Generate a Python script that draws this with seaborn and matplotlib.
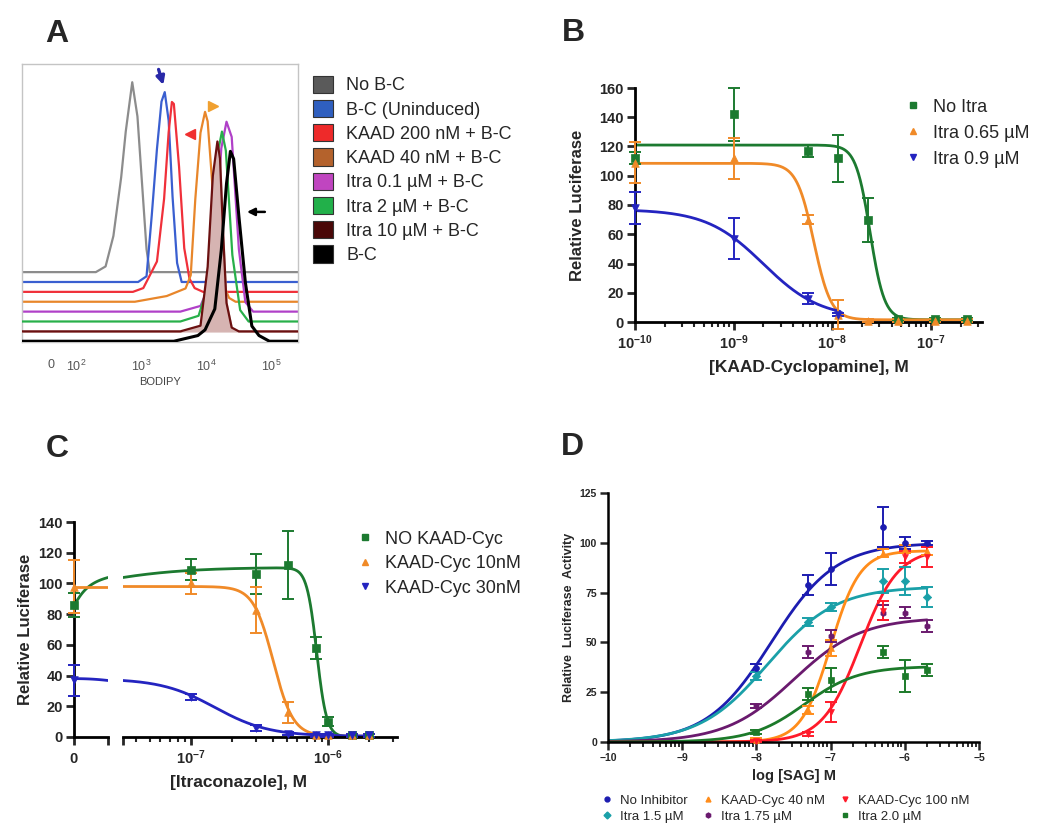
import numpy as np
import matplotlib
matplotlib.use("Agg")
import matplotlib.pyplot as plt
import seaborn as sns
from matplotlib.lines import Line2D
from matplotlib.patches import Patch
from matplotlib.ticker import FixedLocator, NullFormatter

# ---------------- Panel A: BODIPY flow histograms (log10 BODIPY, mode-normalised)
hist_labels = ["No B-C", "B-C (Uninduced)", "KAAD 200 nM + B-C", "KAAD 40 nM + B-C",
               "Itra 0.1 \u00b5M + B-C", "Itra 2 \u00b5M + B-C", "Itra 10 \u00b5M + B-C", "B-C"]
nobc_logx = [2.30, 2.45, 2.57, 2.69, 2.76, 2.86, 2.94, 3.02, 3.08, 3.13]
nobc_h = [0, 0.03, 0.19, 0.50, 0.74, 1.00, 0.82, 0.42, 0.12, 0]
uninduced_logx = [2.95, 3.08, 3.16, 3.24, 3.31, 3.36, 3.42, 3.48, 3.55, 3.62]
uninduced_h = [0, 0.03, 0.35, 0.70, 0.95, 1.00, 0.85, 0.45, 0.10, 0]
kaad200_logx = [2.87, 3.03, 3.24, 3.35, 3.42, 3.47, 3.50, 3.58, 3.66, 3.74, 3.82, 3.95]
kaad200_h = [0, 0.02, 0.16, 0.49, 0.84, 1.00, 0.99, 0.66, 0.23, 0.07, 0.02, 0]
kaad40_logx = [2.90, 3.39, 3.68, 3.76, 3.83, 3.91, 3.98, 4.02, 4.07, 4.15, 4.25, 4.35, 4.45]
kaad40_h = [0, 0.03, 0.07, 0.14, 0.54, 0.89, 1.00, 0.95, 0.72, 0.35, 0.10, 0.02, 0]
itra01_logx = [3.60, 3.91, 4.07, 4.15, 4.23, 4.31, 4.39, 4.50, 4.60, 4.72]
itra01_h = [0, 0.03, 0.16, 0.45, 0.86, 1.00, 0.92, 0.33, 0.05, 0]
itra2_logx = [3.60, 3.88, 4.00, 4.08, 4.16, 4.24, 4.30, 4.40, 4.52, 4.65]
itra2_h = [0, 0.03, 0.16, 0.45, 0.86, 1.00, 0.90, 0.35, 0.06, 0]
itra10_logx = [3.60, 3.91, 4.02, 4.10, 4.17, 4.21, 4.26, 4.31, 4.39, 4.50]
itra10_h = [0, 0.03, 0.34, 0.82, 1.00, 0.91, 0.50, 0.15, 0.02, 0]
bc_logx = [3.50, 3.87, 3.98, 4.13, 4.23, 4.31, 4.37, 4.42, 4.50, 4.60, 4.70, 4.81, 4.97]
bc_h = [0, 0.03, 0.06, 0.17, 0.48, 0.83, 1.00, 0.96, 0.66, 0.31, 0.08, 0.03, 0]

# ---------------- Panel B: KAAD-cyclopamine dose response
b_conc = [1e-10, 1e-9, 5.7e-9, 1.15e-8, 2.3e-8, 4.6e-8, 1.1e-7, 2.3e-7]
b_noitra = [112, 142, 117, 112, 70, 2, 2, 2]
b_noitra_err = [4, 18, 4, 16, 15, 1, 1, 1]
b_itra065 = [109, 112, 70, 5, 1, 1, 1, 1]
b_itra065_err = [14, 14, 3, 10, 1, 1, 1, 1]
b_itra09 = [78, 57, 16, 5]
b_itra09_err = [11, 14, 4, 1]
# fit parameters: bottom, top, IC50, hill
b_fit_noitra = [1.5, 121, 2.42e-8, 6.0]
b_fit_itra065 = [1.5, 108.5, 6.5e-9, 5.0]
b_fit_itra09 = [2.5, 77, 2.0e-9, 1.5]

# ---------------- Panel C: itraconazole dose response
c_conc = [1e-7, 3e-7, 5.1e-7, 8.2e-7, 1e-6, 1.5e-6, 2e-6]
c_nokaad_zero, c_nokaad_zero_err = 86, 8
c_nokaad = [109, 106, 112, 58, 10, 1, 1]
c_nokaad_err = [7, 13, 22, 7, 3, 1, 1]
c_kaad10_zero, c_kaad10_zero_err = 98, 17
c_kaad10 = [100, 83, 16, 1, 1, 1, 1]
c_kaad10_err = [7, 15, 7, 1, 1, 1, 1]
c_kaad30_zero, c_kaad30_zero_err = 37, 10
c_kaad30 = [26, 6, 2, 1, 1, 1, 1]
c_kaad30_err = [2, 2, 1, 1, 1, 1, 1]
# no KAAD: start, plateau, rise EC50, rise hill, fall IC50, fall hill
c_fit_nokaad = [86, 110.5, 1.45e-8, 1.25, 8.3e-7, 12.0]
c_fit_kaad10 = [0.5, 98, 4.0e-7, 6.0]
c_fit_kaad30 = [0.5, 38, 1.5e-7, 2.2]

# ---------------- Panel D: SAG dose response (log M)
d_logx = [-8, -7.3, -7, -6.3, -6, -5.7]
d_noinh = [37, 79, 87, 108, 100, 100]
d_noinh_err = [2, 5, 8, 10, 3, 1]
d_itra15 = [33, 60, 68, 81, 81, 73]
d_itra15_err = [2, 2, 2, 6, 7, 5]
d_itra175 = [18, 45, 53, 65, 65, 58]
d_itra175_err = [1, 3, 3, 4, 3, 3]
d_itra20 = [5, 24, 31, 45, 33, 36]
d_itra20_err = [1, 3, 6, 3, 8, 3]
d_kaad40 = [1, 16, 47, 95, 97, 96]
d_kaad40_err = [1, 2, 4, 2, 2, 2]
d_kaad100 = [0.5, 4, 15, 66, 93, 93]
d_kaad100_err = [0.5, 1, 5, 5, 3, 5]
# top, logEC50, hill (bottom = 0)
d_fit_noinh = [100, -7.80, 1.0]
d_fit_itra15 = [78, -7.85, 0.95]
d_fit_itra175 = [62.5, -7.50, 0.95]
d_fit_itra20 = [38, -7.35, 1.2]
d_fit_kaad40 = [96, -7.00, 2.2]
d_fit_kaad100 = [97, -6.60, 1.7]


def hill_down(x, bottom, top, ic50, slope):
    return bottom + (top - bottom) / (1 + (np.asarray(x) / ic50) ** slope)


def rise_fall(x, start, top, ec50, h1, ic50, h2):
    x = np.asarray(x, dtype=float)
    r = x ** h1 / (x ** h1 + ec50 ** h1)
    return (start + (top - start) * r) / (1 + (x / ic50) ** h2)


def hill_up_log(logx, top, logec50, slope):
    return top / (1 + 10 ** ((logec50 - np.asarray(logx)) * slope))


sns.set_style("white")
plt.rcParams["font.family"] = ["Liberation Sans", "DejaVu Sans"]
plt.rcParams["mathtext.fontset"] = "custom"
plt.rcParams["mathtext.rm"] = "Liberation Sans"
plt.rcParams["mathtext.bf"] = "Liberation Sans:bold"
plt.rcParams["mathtext.it"] = "Liberation Sans:italic"

W, H = 1050, 831
fig = plt.figure(figsize=(W / 100, H / 100), dpi=100)


def px_axes(l, t, r, b):
    return fig.add_axes([l / W, 1 - b / H, (r - l) / W, (b - t) / H])


def prism_axes(ax, lw=2.0, size=10.5):
    sns.despine(ax=ax)
    for s in ["left", "bottom"]:
        ax.spines[s].set_linewidth(lw)
        ax.spines[s].set_color("black")
    ax.tick_params(which="major", direction="out", length=6, width=lw, labelsize=size, pad=2,
                   left=True, bottom=True)
    ax.tick_params(which="minor", direction="out", length=3.5, width=lw * 0.75, bottom=True)
    for lbl in ax.get_xticklabels() + ax.get_yticklabels():
        lbl.set_fontweight("bold")


def draw_series(ax, x, y, err, color, marker, ms=30):
    ax.errorbar(x, y, yerr=err, fmt="none", ecolor=color, elinewidth=1.4, capsize=4,
                capthick=1.4, zorder=3, clip_on=False)
    sns.scatterplot(x=x, y=y, ax=ax, color=color, marker=marker, s=ms, edgecolor=color,
                    linewidth=0.5, zorder=4, clip_on=False, legend=False)


# ================= Panel A =================
axA = px_axes(22, 64, 298, 342)
hist_logx = [nobc_logx, uninduced_logx, kaad200_logx, kaad40_logx, itra01_logx, itra2_logx,
             itra10_logx, bc_logx]
hist_h = [nobc_h, uninduced_h, kaad200_h, kaad40_h, itra01_h, itra2_h, itra10_h, bc_h]
line_colors = ["#8c8c8c", "#3a5fd0", "#f0303a", "#e8862a", "#b040c8", "#28b04a", "#6a1010", "#000000"]
box_colors = ["#5a5a5a", "#2f5fbf", "#ee2a2a", "#b4622c", "#c045c0", "#22b04a", "#4a0808", "#000000"]
for i, (lx, hh, col) in enumerate(zip(hist_logx, hist_h, line_colors)):
    off = (7 - i) * 0.052
    xs = np.concatenate([[-130], 10 ** np.array(lx), [3e5]])
    ys = off + np.concatenate([[0], hh, [0]])
    if i == 6:
        axA.fill_between(xs, off, ys, color="#d6b4b2", zorder=2 + i * 0.1)
    sns.lineplot(x=xs, y=ys, ax=axA, color=col, lw=2.2 if i == 7 else 1.6,
                 zorder=2.05 + i * 0.1, legend=False)
axA.set_xscale("symlog", linthresh=100, linscale=0.354)
axA.set_xlim(-112, 2.57e5)
axA.set_ylim(-0.004, 1.46)
axA.set_yticks([])
axA.set_xticks([0, 1e2, 1e3, 1e4, 1e5])
axA.set_xticklabels(["0", "$10^2$", "$10^3$", "$10^4$", "$10^5$"])
axA.xaxis.set_minor_locator(FixedLocator([k * 10 ** n for n in range(2, 5) for k in range(2, 10)]
                                         + [-50, 50]))
axA.xaxis.set_minor_formatter(NullFormatter())
axA.tick_params(axis="x", which="major", direction="out", length=3, width=0.8, colors="#555555",
                labelsize=9, pad=9)
axA.tick_params(axis="x", which="minor", direction="out", length=2, width=0.6, colors="#777777")
for s in axA.spines.values():
    s.set_color("#c4c4c4")
    s.set_linewidth(1.0)
axA.set_xlabel("BODIPY", fontsize=8, color="#444444", labelpad=2)
# arrows marking each population
axA.annotate("", xy=(0.515, 0.915), xytext=(0.492, 0.99), xycoords="axes fraction",
             arrowprops=dict(arrowstyle="-|>", color="#2828a8", lw=2.4, mutation_scale=12))
axA.plot([0.609], [0.748], marker="<", color="#f03030", ms=7, transform=axA.transAxes, clip_on=False)
axA.plot([0.692], [0.850], marker=">", color="#f0a030", ms=7, transform=axA.transAxes, clip_on=False)
axA.annotate("", xy=(0.805, 0.468), xytext=(0.89, 0.468), xycoords="axes fraction",
             arrowprops=dict(arrowstyle="-|>", color="black", lw=1.8, mutation_scale=11))
axA.legend([Patch(facecolor=c, edgecolor="#333333", lw=0.8) for c in box_colors], hist_labels,
           loc="upper left", bbox_to_anchor=(1.054, 0.958), frameon=False, fontsize=13,
           handlelength=1.1, handleheight=1.1, handletextpad=0.75, labelspacing=0.3,
           borderpad=0, borderaxespad=0)

# ================= Panel B =================
axB = px_axes(635, 88, 982, 322)
c_green, c_orange, c_blue = "#1c7a30", "#f08a28", "#2424c0"
xs_long = np.logspace(-10, np.log10(2.3e-7), 400)
xs_short = np.logspace(-10, np.log10(1.2e-8), 300)
sns.lineplot(x=xs_long, y=hill_down(xs_long, *b_fit_noitra), ax=axB, color=c_green, lw=2, legend=False)
sns.lineplot(x=xs_long, y=hill_down(xs_long, *b_fit_itra065), ax=axB, color=c_orange, lw=2, legend=False)
sns.lineplot(x=xs_short, y=hill_down(xs_short, *b_fit_itra09), ax=axB, color=c_blue, lw=2, legend=False)
draw_series(axB, b_conc, b_noitra, b_noitra_err, c_green, "s")
draw_series(axB, b_conc, b_itra065, b_itra065_err, c_orange, "^")
draw_series(axB, b_conc[:len(b_itra09)], b_itra09, b_itra09_err, c_blue, "v")
axB.set_xscale("log")
axB.set_xlim(1e-10, 3.3e-7)
axB.set_ylim(0, 160)
axB.set_yticks(range(0, 161, 20))
axB.set_xticks([1e-10, 1e-9, 1e-8, 1e-7])
axB.set_xticklabels([r"$\mathbf{10^{-10}}$", r"$\mathbf{10^{-9}}$", r"$\mathbf{10^{-8}}$",
                     r"$\mathbf{10^{-7}}$"])
axB.xaxis.set_minor_formatter(NullFormatter())
prism_axes(axB)
axB.set_xlabel("[KAAD-Cyclopamine], M", fontsize=12.5, fontweight="bold", labelpad=6)
axB.set_ylabel("Relative Luciferase", fontsize=12, fontweight="bold", labelpad=10)
b_handles = [Line2D([], [], ls="", marker=m, color=c, ms=5) for m, c in
             [("s", c_green), ("^", c_orange), ("v", c_blue)]]
axB.legend(b_handles, ["No Itra", "Itra 0.65 \u00b5M", "Itra 0.9 \u00b5M"], loc="upper left",
           bbox_to_anchor=(0.775, 0.955), frameon=False, fontsize=13, handlelength=1.0,
           handletextpad=0.6, labelspacing=0.5, borderpad=0, borderaxespad=0)

# ================= Panel C (broken x axis) =================
axC1 = px_axes(74, 522, 108, 737)
axC2 = px_axes(123, 522, 397, 737)
x_split = 3.2e-8
xs_lin = np.linspace(0, x_split, 120)
xs_log = np.logspace(np.log10(x_split), np.log10(2e-6), 400)
for ax, xs in [(axC1, xs_lin), (axC2, xs_log)]:
    sns.lineplot(x=xs, y=rise_fall(xs, *c_fit_nokaad), ax=ax, color=c_green, lw=2, legend=False)
    sns.lineplot(x=xs, y=hill_down(xs, *c_fit_kaad10), ax=ax, color=c_orange, lw=2, legend=False)
    sns.lineplot(x=xs, y=hill_down(xs, *c_fit_kaad30), ax=ax, color=c_blue, lw=2, legend=False)
draw_series(axC1, [0], [c_nokaad_zero], [c_nokaad_zero_err], c_green, "s")
draw_series(axC1, [0], [c_kaad10_zero], [c_kaad10_zero_err], c_orange, "^")
draw_series(axC1, [0], [c_kaad30_zero], [c_kaad30_zero_err], c_blue, "v")
draw_series(axC2, c_conc, c_nokaad, c_nokaad_err, c_green, "s")
draw_series(axC2, c_conc, c_kaad10, c_kaad10_err, c_orange, "^")
draw_series(axC2, c_conc, c_kaad30, c_kaad30_err, c_blue, "v")
axC1.set_xlim(0, x_split)
axC1.set_ylim(0, 140)
axC1.set_xticks([0, x_split])
axC1.set_xticklabels(["0", ""])
axC1.set_yticks(range(0, 141, 20))
prism_axes(axC1)
axC1.tick_params(axis="x", pad=5)
axC1.set_ylabel("Relative Luciferase", fontsize=12, fontweight="bold", labelpad=4)
axC2.set_xscale("log")
axC2.set_xlim(x_split, 3.2e-6)
axC2.set_ylim(0, 140)
axC2.set_xticks([x_split, 1e-7, 1e-6])
axC2.set_xticklabels(["", r"$\mathbf{10^{-7}}$", r"$\mathbf{10^{-6}}$"])
axC2.xaxis.set_minor_formatter(NullFormatter())
prism_axes(axC2)
axC2.spines["left"].set_visible(False)
axC2.tick_params(axis="y", left=False, labelleft=False)
axC2.set_xlabel("[Itraconazole], M", fontsize=12.5, fontweight="bold")
axC2.xaxis.set_label_coords(0.42, -0.175)
axC2.legend(b_handles, ["NO KAAD-Cyc", "KAAD-Cyc 10nM", "KAAD-Cyc 30nM"], loc="upper left",
            bbox_to_anchor=(0.85, 0.96), frameon=False, fontsize=13, handlelength=1.0,
            handletextpad=0.6, labelspacing=0.42, borderpad=0, borderaxespad=0)

# ================= Panel D =================
axD = px_axes(608, 493, 979, 742)
d_series = [
    ("No Inhibitor", d_noinh, d_noinh_err, d_fit_noinh, "#1c1cb0", "o"),
    ("Itra 1.5 \u00b5M", d_itra15, d_itra15_err, d_fit_itra15, "#1aa0a8", "D"),
    ("KAAD-Cyc 40 nM", d_kaad40, d_kaad40_err, d_fit_kaad40, "#ff8c1a", "^"),
    ("Itra 1.75 \u00b5M", d_itra175, d_itra175_err, d_fit_itra175, "#6a1a6e", "h"),
    ("KAAD-Cyc 100 nM", d_kaad100, d_kaad100_err, d_fit_kaad100, "#ff1a2a", "v"),
    ("Itra 2.0 \u00b5M", d_itra20, d_itra20_err, d_fit_itra20, "#1c7a2a", "s"),
]
xs_d = np.linspace(-10, -5.7, 400)
for lab, y, e, fit, col, m in d_series:
    sns.lineplot(x=xs_d, y=hill_up_log(xs_d, *fit), ax=axD, color=col, lw=2, legend=False)
    draw_series(axD, d_logx, y, e, col, m, ms=18)
axD.set_xlim(-10, -5)
axD.set_ylim(0, 125)
axD.set_xticks(range(-10, -4))
axD.set_yticks(range(0, 126, 25))
axD.xaxis.set_minor_locator(FixedLocator([n + np.log10(k) for n in range(-10, -5) for k in range(2, 10)]))
prism_axes(axD, lw=1.8, size=7.5)
axD.set_xlabel("log [SAG] M", fontsize=10.5, fontweight="bold", labelpad=4)
axD.set_ylabel("Relative  Luciferase  Activity", fontsize=9, fontweight="bold", labelpad=3)
d_handles = [Line2D([], [], ls="", marker=m, color=c, ms=3.5) for _, _, _, _, c, m in d_series]
axD.legend(d_handles, [s[0] for s in d_series], loc="upper left", bbox_to_anchor=(-0.02, -0.21),
           ncol=3, frameon=False, fontsize=9.5, handlelength=1.0, handletextpad=0.5,
           labelspacing=0.3, columnspacing=1.0, borderpad=0, borderaxespad=0)

# panel letters
for letter, x, y in [("A", 57, 34), ("B", 573, 33), ("C", 57, 449), ("D", 572, 447)]:
    fig.text(x / W, 1 - y / H, letter, ha="center", va="center", fontsize=23, fontweight="bold")

fig.savefig("out.png", dpi=100)
